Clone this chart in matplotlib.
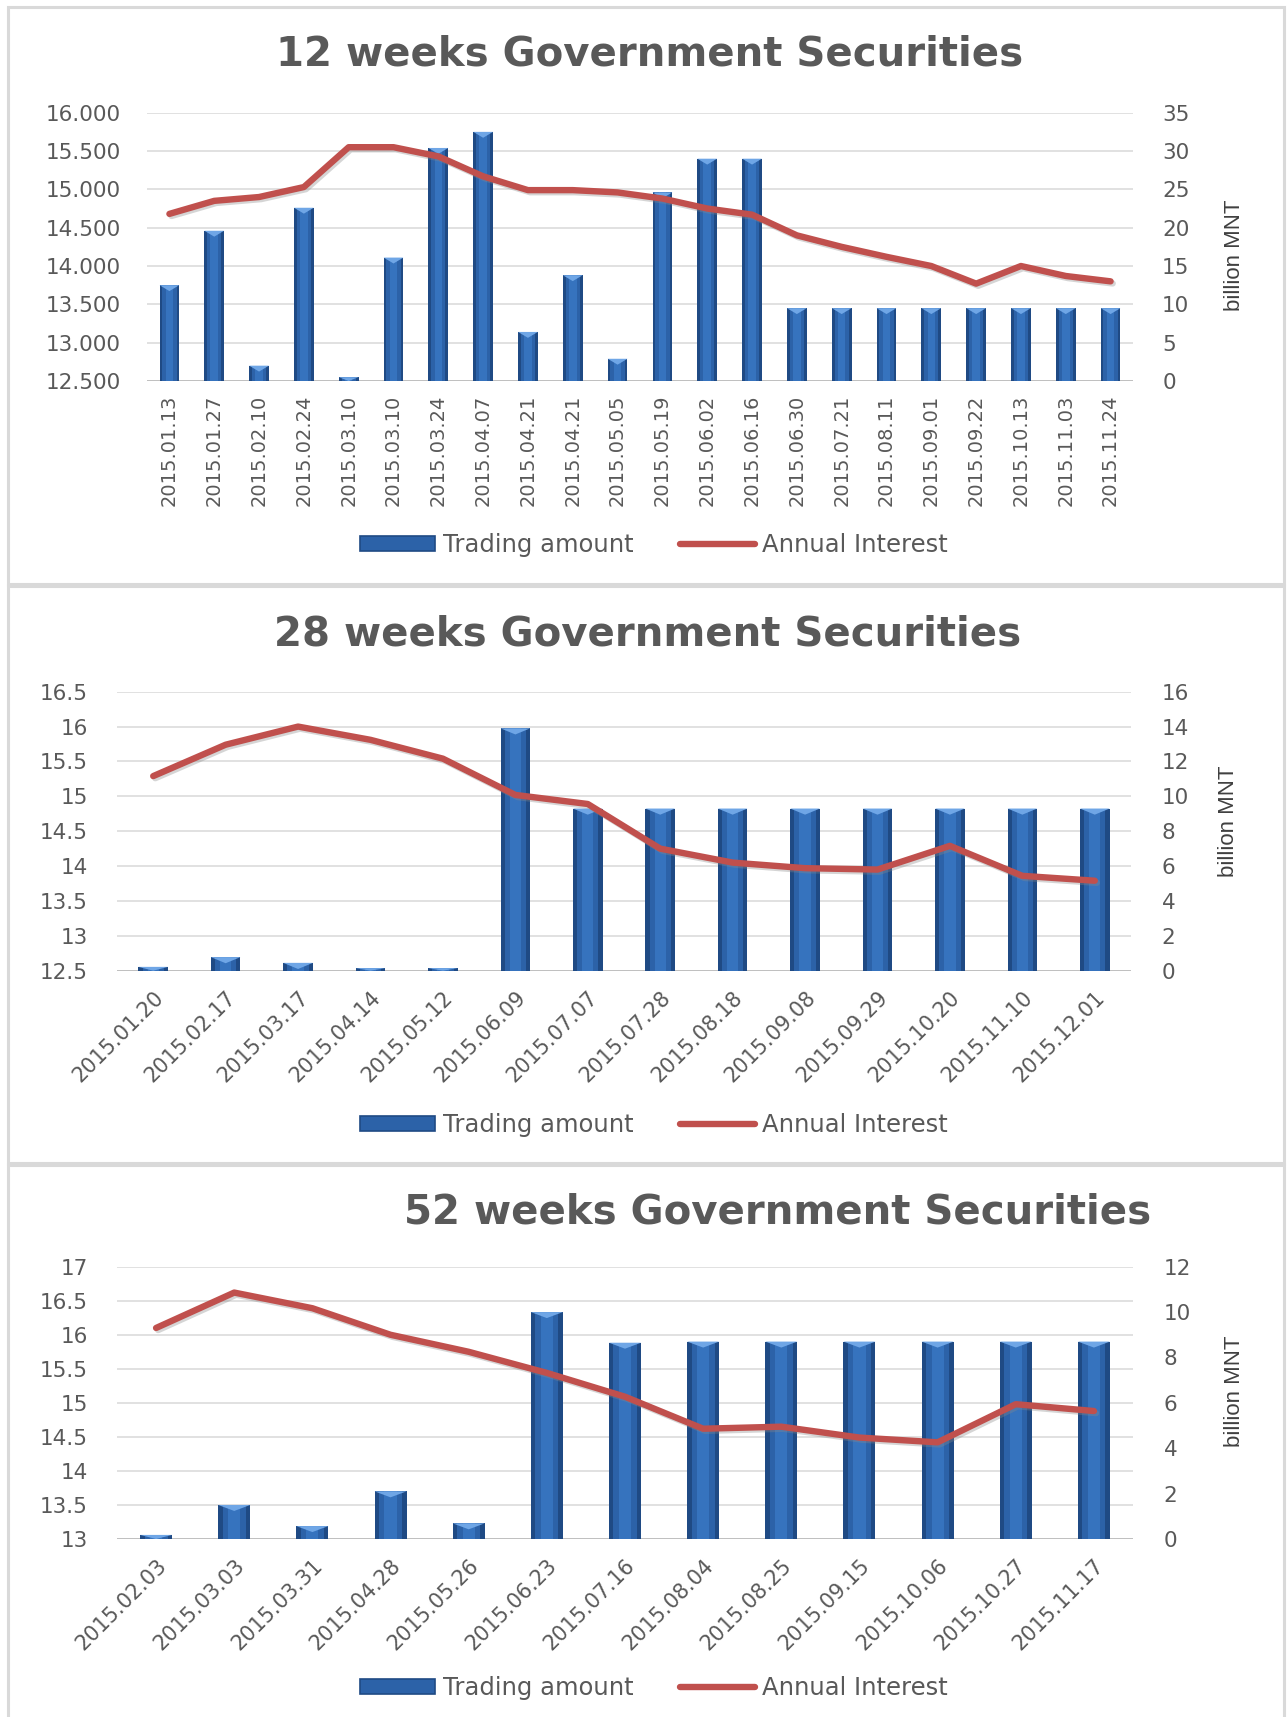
import numpy as np
import matplotlib
matplotlib.use('Agg')
import matplotlib.pyplot as plt
from matplotlib.patches import Patch, Rectangle
from matplotlib.lines import Line2D
import matplotlib.patheffects as pe

# ---- data ----
dates_12 = ['2015.01.13', '2015.01.27', '2015.02.10', '2015.02.24', '2015.03.10', '2015.03.10',
            '2015.03.24', '2015.04.07', '2015.04.21', '2015.04.21', '2015.05.05', '2015.05.19',
            '2015.06.02', '2015.06.16', '2015.06.30', '2015.07.21', '2015.08.11', '2015.09.01',
            '2015.09.22', '2015.10.13', '2015.11.03', '2015.11.24']
amount_12 = [12.5, 19.6, 2.0, 22.6, 0.5, 16.1, 30.4, 32.5, 6.4, 13.8, 2.9, 24.6,
             29.0, 29.0, 9.5, 9.5, 9.5, 9.5, 9.5, 9.5, 9.5, 9.5]
rate_12 = [14.68, 14.85, 14.90, 15.03, 15.55, 15.55, 15.43, 15.17, 14.99, 14.99, 14.96, 14.88,
           14.75, 14.67, 14.40, 14.25, 14.12, 14.00, 13.77, 14.00, 13.87, 13.80]

dates_28 = ['2015.01.20', '2015.02.17', '2015.03.17', '2015.04.14', '2015.05.12', '2015.06.09',
            '2015.07.07', '2015.07.28', '2015.08.18', '2015.09.08', '2015.09.29', '2015.10.20',
            '2015.11.10', '2015.12.01']
amount_28 = [0.22, 0.78, 0.45, 0.15, 0.15, 13.9, 9.3, 9.3, 9.3, 9.3, 9.3, 9.3, 9.3, 9.3]
rate_28 = [15.29, 15.74, 16.00, 15.81, 15.54, 15.02, 14.89, 14.25, 14.05, 13.97, 13.95,
           14.29, 13.86, 13.79]

dates_52 = ['2015.02.03', '2015.03.03', '2015.03.31', '2015.04.28', '2015.05.26', '2015.06.23',
            '2015.07.16', '2015.08.04', '2015.08.25', '2015.09.15', '2015.10.06', '2015.10.27',
            '2015.11.17']
amount_52 = [0.18, 1.5, 0.57, 2.1, 0.69, 10.0, 8.65, 8.7, 8.7, 8.7, 8.7, 8.7, 8.7]
rate_52 = [16.10, 16.62, 16.39, 16.00, 15.75, 15.44, 15.09, 14.62, 14.65, 14.49, 14.42,
           14.98, 14.88]

W, H = 1287, 1717
GRAY = '#595959'
RED = '#C0504D'
plt.rcParams['font.family'] = ['DejaVu Sans']

fig = plt.figure(figsize=(W / 100, H / 100), dpi=100)


def px_rect(x0, y_top, x1, y_bot):
    # pixel box -> figure fraction [left, bottom, width, height]
    return [x0 / W, 1 - y_bot / H, (x1 - x0) / W, (y_bot - y_top) / H]


def draw_panel(rect, dates, amount, rate, lim_l, step_l, lim_r, step_r, fmt_l,
               bar_w, rot, xpad, lpad, rpad):
    ax_b = fig.add_axes(rect)          # bars, right scale
    ax_l = ax_b.twinx()                # line, left scale
    ax_l.yaxis.tick_left()
    ax_b.yaxis.tick_right()
    x = np.arange(len(dates))

    ax_b.set_ylim(*lim_r)
    ax_l.set_ylim(*lim_l)
    ax_b.set_xlim(-0.5, len(dates) - 0.5)

    # gridlines follow the left scale, drawn behind bars
    for v in np.arange(lim_l[0], lim_l[1] + 1e-9, step_l):
        f = (v - lim_l[0]) / (lim_l[1] - lim_l[0])
        ax_b.plot([0, 1], [f, f], transform=ax_b.transAxes,
                  color='#BFBFBF' if f == 0 else '#D9D9D9', lw=1.4 if f == 0 else 1.1, zorder=0)

    # bars with a simple cylinder shading
    ax_b.bar(x, amount, width=bar_w, color='#1F4A84', zorder=2)
    ax_b.bar(x, amount, width=bar_w * 0.72, color='#2C62A8', zorder=3)
    ax_b.bar(x, amount, width=bar_w * 0.38, color='#3673BE', zorder=4)
    tri = 0.022 * (lim_r[1] - lim_r[0])
    for xi, v in zip(x, amount):
        h = min(tri, v)
        ax_b.fill([xi - bar_w / 2, xi + bar_w / 2, xi], [v, v, v - h],
                  color='#6FA6E6', lw=0, zorder=5)

    ax_l.plot(x, rate, color=RED, lw=4.6, solid_capstyle='round', solid_joinstyle='round',
              zorder=6,
              path_effects=[pe.SimpleLineShadow(offset=(1.5, -1.5), shadow_color='#888888', alpha=0.35),
                            pe.Normal()])

    ax_l.set_yticks(np.arange(lim_l[0], lim_l[1] + 1e-9, step_l))
    ax_l.set_yticklabels([fmt_l(v) for v in ax_l.get_yticks()])
    ax_b.set_yticks(np.arange(lim_r[0], lim_r[1] + 1e-9, step_r))
    ax_b.set_yticklabels([f'{v:g}' for v in ax_b.get_yticks()])

    ax_b.set_xticks(x)
    if rot == 90:
        ax_b.set_xticklabels(dates, rotation=90, fontsize=14, color=GRAY)
    else:
        ax_b.set_xticklabels(dates, rotation=45, ha='right', rotation_mode='anchor',
                             fontsize=15, color=GRAY)

    ax_b.tick_params(axis='x', length=0, pad=xpad)
    ax_b.tick_params(axis='y', length=0, pad=rpad, labelsize=15.5, labelcolor=GRAY)
    ax_l.tick_params(axis='y', length=0, pad=lpad, labelsize=15.5, labelcolor=GRAY)
    for a in (ax_b, ax_l):
        for s in a.spines.values():
            s.set_visible(False)
    ax_b.set_zorder(1)
    ax_l.set_zorder(2)
    ax_l.patch.set_visible(False)
    return ax_b, ax_l


def legend_at(yc):
    handles = [Patch(facecolor='#2C62A8', edgecolor='#1F4A84', lw=1.2, label='Trading amount'),
               Line2D([0], [0], color=RED, lw=4.6, solid_capstyle='round', label='Annual Interest')]
    fig.legend(handles=handles, loc='center', bbox_to_anchor=(654 / W, 1 - yc / H), ncol=2,
               frameon=False, fontsize=17.5, handlelength=3.1, handleheight=0.55,
               handletextpad=0.3, columnspacing=1.9, labelcolor=GRAY)


# panel frames
for top, bot in [(7, 584), (586, 1163), (1165, 1720)]:
    fig.patches.append(Rectangle((8 / W, 1 - bot / H), 1276 / W, (bot - top) / H,
                                 transform=fig.transFigure, fill=False,
                                 edgecolor='#D9D9D9', lw=2.2))

title_kw = dict(ha='center', va='center', fontsize=29, fontweight='bold', color=GRAY)
unit_kw = dict(rotation=90, ha='center', va='center', fontsize=16, color='#404040',
               family='Liberation Sans')

# 12 weeks
draw_panel(px_rect(147, 112.7, 1133, 381), dates_12, amount_12, rate_12,
           (12.5, 16.0), 0.5, (0, 35), 5, lambda v: f'{v:.3f}',
           0.44, 90, 10, 19, 21)
fig.text(650 / W, 1 - 55 / H, '12 weeks Government Securities', **title_kw)
fig.text(1234 / W, 1 - 255 / H, 'billion MNT', **unit_kw)
legend_at(545)

# 28 weeks
draw_panel(px_rect(117, 691.7, 1131, 970.7), dates_28, amount_28, rate_28,
           (12.5, 16.5), 0.5, (0, 16), 2, lambda v: f'{v:g}',
           0.41, 45, 12, 21, 22)
fig.text(648 / W, 1 - 635 / H, '28 weeks Government Securities', **title_kw)
fig.text(1229 / W, 1 - 821 / H, 'billion MNT', **unit_kw)
legend_at(1125)

# 52 weeks
draw_panel(px_rect(117, 1266.7, 1133, 1539), dates_52, amount_52, rate_52,
           (13.0, 17.0), 0.5, (0, 12), 2, lambda v: f'{v:g}',
           0.41, 45, 12, 21, 22)
fig.text(778 / W, 1 - 1212 / H, '52 weeks Government Securities', **title_kw)
fig.text(1234 / W, 1 - 1391 / H, 'billion MNT', **unit_kw)
legend_at(1688)

fig.savefig('out.png', dpi=100, facecolor='white')
